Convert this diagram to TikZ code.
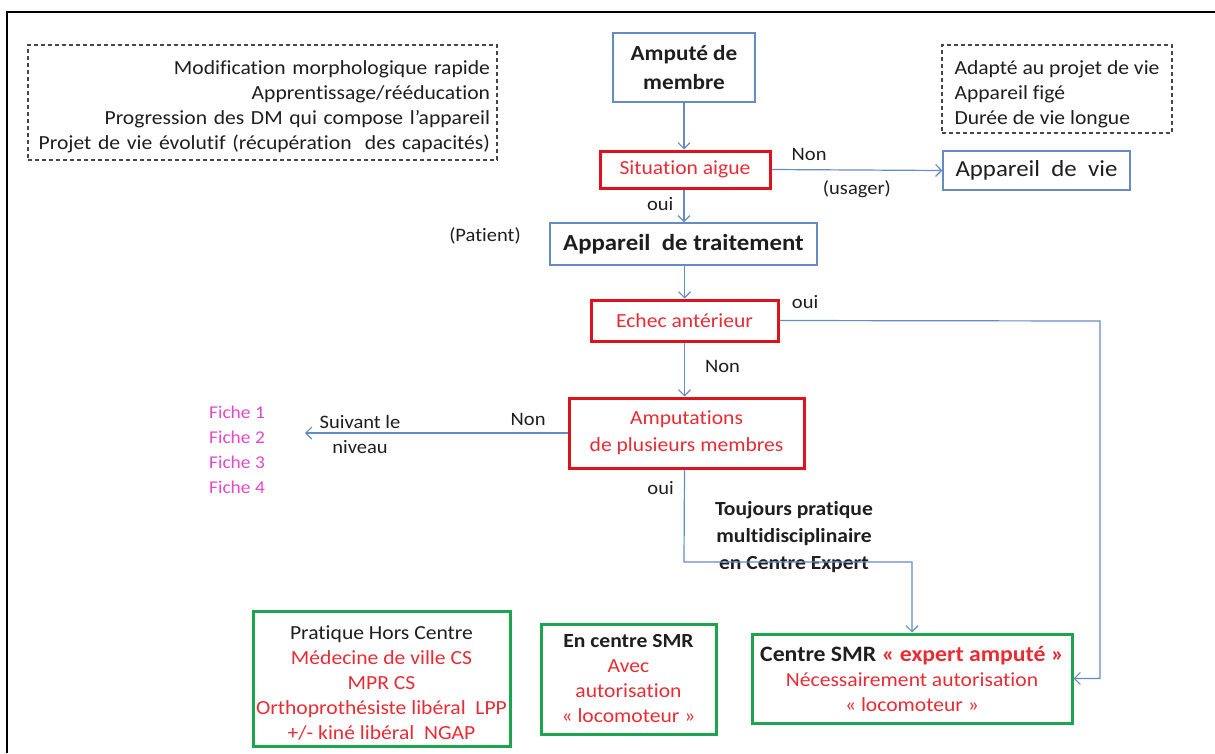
\documentclass[tikz,border=0pt]{standalone}
\usepackage{fontspec}
\setmainfont{Carlito}[FakeStretch=1.08, Ligatures=NoCommon]
\usetikzlibrary{arrows.meta}

\definecolor{lineblue}{RGB}{100,140,196}
\definecolor{boxred}{RGB}{222,18,28}
\definecolor{txtred}{RGB}{232,44,52}
\definecolor{boxgreen}{RGB}{28,164,78}
\definecolor{fichepink}{RGB}{226,72,204}
\definecolor{dashgrey}{RGB}{70,70,70}
\definecolor{txtblack}{RGB}{30,30,30}

% invisible strut that adds room above the first line of a block
\newcommand\topgap[1]{\rule{0pt}{#1}}

\begin{document}
\begin{tikzpicture}[x=1pt,y=-1pt,
  every node/.style={font=\fontsize{20}{25}\selectfont, text=txtblack, inner sep=0pt, align=center},
  bluebox/.style={draw=lineblue, line width=1.2pt},
  redbox/.style={draw=boxred, line width=3pt, text=txtred},
  greenbox/.style={draw=boxgreen, line width=3pt},
  notebox/.style={draw=dashgrey, line width=1.2pt, dash pattern=on 4pt off 3pt},
  conn/.style={draw=lineblue, line width=1.2pt},
  arr/.style={conn, -{Straight Barb[length=6pt,width=12pt,line width=1.2pt]}},
  lbl/.style={font=\fontsize{19}{23}\selectfont},
  big/.style={font=\fontsize{23}{28}\selectfont},
]
\useasboundingbox (0,0) rectangle (1215,753);

% outer frame (left and top rules)
\draw[line width=2.2pt, black] (7,753) -- (7,12) -- (1215,12);

% notes
\node[notebox, minimum width=469, minimum height=115, text width=455, align=right]
  (notesL) at (262.5,102.5)
  {\topgap{22pt}Modification morphologique rapide\\
   Apprentissage/rééducation\\
   Progression des DM qui compose l’appareil\\
   Projet de vie évolutif (récupération~ des capacités)};
\node[notebox, minimum width=230, minimum height=88, align=left]
  (notesR) at (1057,89)
  {\topgap{25pt}Adapté au projet de vie\\
   Appareil figé\\
   Durée de vie longue};

% main chain
\node[bluebox, minimum width=142, minimum height=69, font=\bfseries\fontsize{21.5}{29}\selectfont]
  (ampute) at (684,67.5) {Amputé de\\membre};
\node[redbox, minimum width=170, minimum height=37] (situation) at (685,169.5) {Situation aigue};
\node[bluebox, minimum width=187, minimum height=39, big] (vie) at (1036.5,170.5)
  {Appareil\hspace{0.25em} de\hspace{0.25em} vie};
\node[bluebox, minimum width=267, minimum height=42, font=\bfseries\fontsize{23}{28}\selectfont]
  (traitement) at (683.5,244) {Appareil\hspace{0.25em} de traitement};
\node[redbox, minimum width=187, minimum height=41] (echec) at (684.5,320.5) {Echec antérieur};
\node[redbox, minimum width=235, minimum height=70, font=\fontsize{20}{27}\selectfont]
  (multi) at (686.5,433) {Amputations\\de plusieurs membres};

% outcome boxes
\node[greenbox, minimum width=257, minimum height=135] (hors) at (381.5,678.5)
  {\topgap{22pt}Pratique Hors Centre\\
   \textcolor{txtred}{Médecine de ville CS}\\
   \textcolor{txtred}{MPR CS}\\
   \textcolor{txtred}{Orthoprothésiste libéral~ LPP}\\
   \textcolor{txtred}{+/- kiné libéral~ NGAP}};
\node[greenbox, minimum width=175, minimum height=110] (smr) at (628.5,679)
  {\textbf{En centre SMR}\\
   \textcolor{txtred}{Avec}\\
   \textcolor{txtred}{autorisation}\\
   \textcolor{txtred}{« locomoteur »}};
\node[greenbox, minimum width=320, minimum height=89] (expert) at (912,678.5)
  {\textbf{\fontsize{22}{26}\selectfont Centre SMR \textcolor{txtred}{« expert amputé »}}\\
   \textcolor{txtred}{Nécessairement autorisation}\\
   \textcolor{txtred}{« locomoteur »}};

% side texts
\node[lbl] (patient) at (485,236) {(Patient)};
\node[lbl, align=center] (suivant) at (360,434) {Suivant le\\[2pt]niveau};
\node[font=\fontsize{18}{25}\selectfont, text=fichepink, align=left] (fiches) at (237,450)
  {Fiche 1\\Fiche 2\\Fiche 3\\Fiche 4};
\node[font=\bfseries\fontsize{20}{27}\selectfont] (toujours) at (794,537)
  {Toujours pratique\\multidisciplinaire\\en Centre Expert};

% connectors
\coordinate (niveau) at (305,433);
\coordinate (ouiR) at (1100,321);
\coordinate (ouiB) at (684,562);

\draw[arr] (ampute.south) -- (ampute.south |- situation.north);
\draw[arr] (situation.east) -- node[lbl, above=8pt, pos=0.22] (non1) {Non}
  node[lbl, below=10pt, pos=0.5] (usager) {(usager)} (vie.west);
\draw[arr] (ampute.south |- situation.south) -- node[lbl, left=10pt, pos=0.45] (oui1) {oui} (ampute.south |- traitement.north);
\draw[arr] (traitement.south -| echec.north) -- (echec.north);
\draw[arr] (echec.south) -- node[lbl, right=20pt, pos=0.45] (non2) {Non} (echec.south |- multi.north);
\draw[arr] (echec.east) -- node[lbl, above=11pt, pos=0.08] (oui2) {oui} (ouiR) |- (expert.east);
\draw[arr] (multi.west) -- node[lbl, above=7pt, pos=0.15] (non3) {Non} (niveau);
\draw[arr] (echec.south |- multi.south) -- node[lbl, left=10pt, pos=0.2] (oui3) {oui} (ouiB) -| (expert.north);
\end{tikzpicture}
\end{document}
